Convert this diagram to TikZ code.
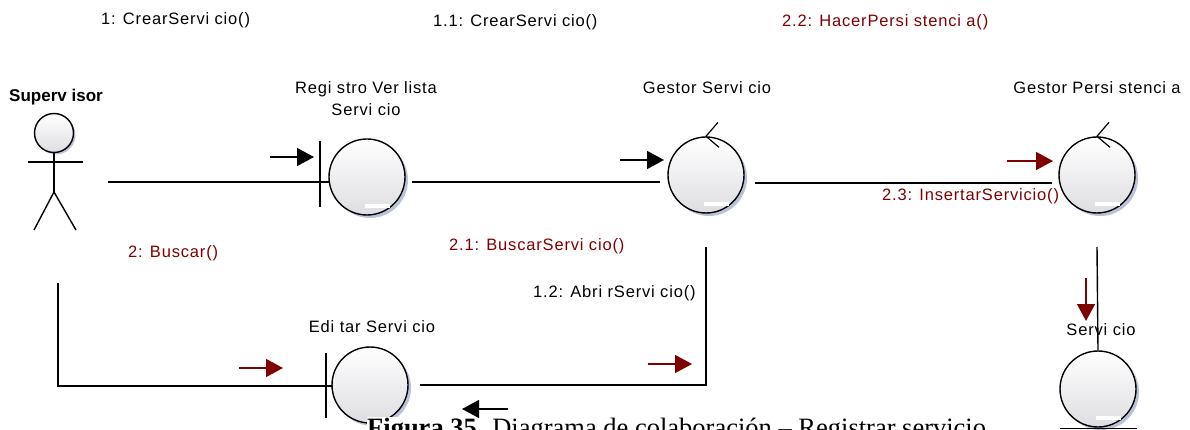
\documentclass[tikz,border=0pt]{standalone}
\usepackage{fontspec}
\setmainfont{Liberation Sans}
\newfontfamily\lblfont[LetterSpace=5]{Liberation Sans}
\newfontfamily\capfont{Liberation Serif}
\usetikzlibrary{arrows.meta,shadows,calc}

\definecolor{msgred}{RGB}{128,0,0}
\definecolor{shadowblue}{RGB}{188,194,216}
\definecolor{objbottom}{RGB}{222,222,226}

\tikzset{
  wire/.style={line width=1.4pt, draw=black},
  obj/.style={circle, minimum size=76pt, inner sep=0pt, draw=black, line width=1.4pt,
    top color=white, bottom color=objbottom,
    drop shadow={shadow xshift=3pt, shadow yshift=-3pt, fill=shadowblue, opacity=1}},
  lbl/.style={font=\lblfont\fontsize{16.5}{22}\selectfont, inner sep=0pt, align=center},
  msglbl/.style={lbl, text=msgred},
  msgarrow/.style={line width=1.4pt, -{Triangle[length=17pt,width=18pt]}},
  blackmsg/.style={msgarrow, draw=black},
  redmsg/.style={msgarrow, draw=msgred},
}

\newcommand{\glint}[1]{\fill[white] ($(#1.center)+(-2,27)$) rectangle +(25,4);}

\begin{document}
\begin{tikzpicture}[x=1pt, y=-1pt]
  \useasboundingbox (0,0) rectangle (1190,430);
  \clip (0,0) rectangle (1190,430);

  % --- actor ---
  \node[circle, minimum size=39pt, inner sep=0pt, draw=black, line width=1.4pt,
        top color=white, bottom color=objbottom,
        drop shadow={shadow xshift=2pt, shadow yshift=-2pt, fill=shadowblue, opacity=1}]
        (head) at (54,133) {};
  \coordinate (hip) at (54,192);
  \draw[wire] (head.south) -- (hip);
  \draw[wire] (28,162) -- (83,162);
  \draw[wire] (34,230) -- (hip) -- (76,230);
  \node[font=\bfseries\fontsize{17}{20}\selectfont, inner sep=0pt] (actorname) at (56,97) {Superv isor};

  % --- objects ---
  \node[obj] (reg) at (367,177) {};
  \node[obj] (gest) at (706,175) {};
  \node[obj] (pers) at (1097,175) {};
  \node[obj] (serv) at (1098,389) {};
  \node[obj] (edit) at (370,385) {};
  \glint{reg}
  \glint{gest}
  \glint{pers}
  \glint{serv}

  % boundary bars
  \coordinate (regbarT) at (320,141);
  \coordinate (regbarB) at (320,207);
  \coordinate (regbarM) at (320,182);
  \draw[wire] (regbarT) -- (regbarB);
  \draw[wire] (regbarM) -- (330,182);
  \coordinate (editbarT) at (326,353);
  \coordinate (editbarB) at (326,418);
  \coordinate (editbarM) at (326,386);
  \draw[wire] (editbarT) -- (editbarB);
  \draw[wire] (editbarM) -- (333,386);

  % control chevrons
  \foreach \c in {gest,pers}{
    \draw[wire, line width=1.2pt] ($(\c.north)+(12,-14)$) -- (\c.north) -- ($(\c.north)+(13,11)$);
  }

  % entity underline
  \draw[wire] ($(serv.south)+(-38,1)$) -- ($(serv.south)+(39,1)$);

  % --- labels of objects ---
  \node[lbl] (reglbl) at (366,99) {Regi stro Ver lista\\Servi cio};
  \node[lbl] (gestlbl) at (707,88) {Gestor Servi cio};
  \node[lbl] (perslbl) at (1097,88) {Gestor Persi stenci a};
  \node[lbl] (editlbl) at (372,327) {Edi tar Servi cio};
  \node[lbl] (servlbl) at (1101,330) {Servi cio};

  % --- links ---
  \coordinate (actR) at (108,182);
  \draw[wire] (actR) -- (regbarM);
  \coordinate (regR) at (412,182);
  \coordinate (gestL) at (660,182);
  \draw[wire] (regR) -- (gestL);
  \coordinate (gestR) at (755,183);
  \coordinate (persL) at (1052,183);
  \draw[wire] (gestR) -- (persL);
  \coordinate (persD) at (1097,247);
  \draw[wire] (persD) -- (serv.north);
  \coordinate (gestD) at (706,247);
  \coordinate (editR) at (420,385);
  \draw[wire] (gestD) -- (706,385) -- (editR);
  \coordinate (actD) at (58,283);
  \draw[wire] (actD) -- (58,386) -- (editbarM);

  % --- message labels ---
  \node[lbl, anchor=west] (m1) at (101,20) {1: CrearServi cio()};
  \node[lbl, anchor=west] (m11) at (433,22) {1.1: CrearServi cio()};
  \node[msglbl, anchor=west] (m22) at (782,22) {2.2: HacerPersi stenci a()};
  \node[msglbl, anchor=west] (m23) at (882,196) {2.3: InsertarServicio()};
  \node[msglbl, anchor=west] (m2) at (128,253) {2: Buscar()};
  \node[msglbl, anchor=west] (m21) at (449,246) {2.1: BuscarServi cio()};
  \node[lbl, anchor=west] (m12) at (533,293) {1.2: Abri rServi cio()};

  % --- message arrows ---
  \coordinate (a1s) at (270,157);   \coordinate (a1e) at (314,157);
  \draw[blackmsg] (a1s) -- (a1e);
  \coordinate (a11s) at (620,160);  \coordinate (a11e) at (664,160);
  \draw[blackmsg] (a11s) -- (a11e);
  \coordinate (a22s) at (1007,161); \coordinate (a22e) at (1053,161);
  \draw[redmsg] (a22s) -- (a22e);
  \coordinate (a23s) at (1086,278); \coordinate (a23e) at (1086,321);
  \draw[redmsg] (a23s) -- (a23e);
  \coordinate (a2s) at (239,368);   \coordinate (a2e) at (283,368);
  \draw[redmsg] (a2s) -- (a2e);
  \coordinate (a21s) at (648,364);  \coordinate (a21e) at (692,364);
  \draw[redmsg] (a21s) -- (a21e);

  % --- caption ---
  \node[fill=white, anchor=north west, inner sep=0pt, font=\capfont\fontsize{26.5}{30}\selectfont,
        minimum height=20pt, text depth=0pt]
        (caption) at (367,417) {\textbf{Figura 35.} Diagrama de colaboración – Registrar servicio};

  \coordinate (a12s) at (508,409);  \coordinate (a12e) at (462,409);
  \draw[blackmsg] (a12s) -- (a12e);
\end{tikzpicture}
\end{document}
